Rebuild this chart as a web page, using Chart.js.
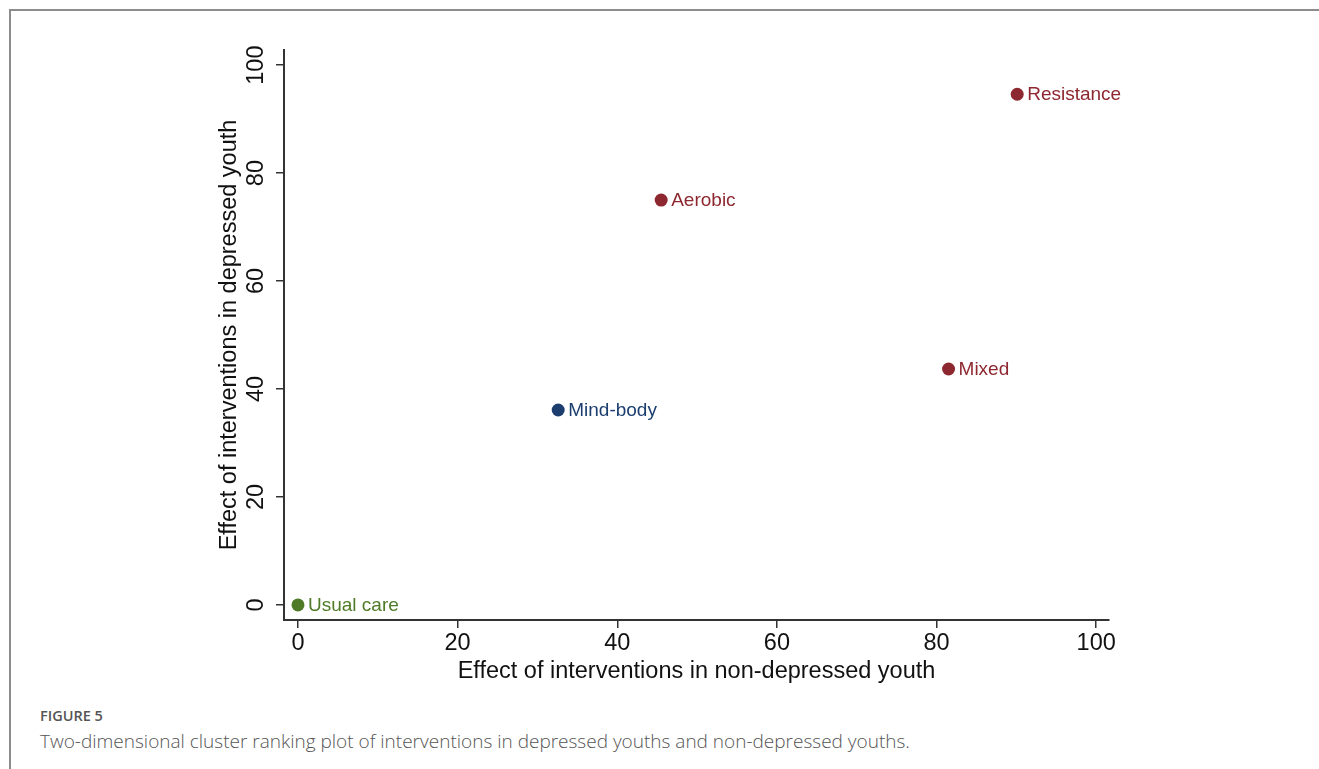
<!DOCTYPE html>
<html>
<head>
<meta charset="utf-8">
<script src="https://cdn.jsdelivr.net/npm/chart.js@4.4.1/dist/chart.umd.min.js"></script>
<style>
  html, body { margin: 0; padding: 0; background: #fff; width: 1319px; height: 769px; overflow: hidden; }
  #frame { position: absolute; left: 9px; top: 9px; width: 1330px; height: 800px; border-top: 2px solid #8c8c8c; border-left: 2px solid #8c8c8c; }
  #wrap { position: absolute; left: 0; top: 0; width: 1319px; height: 700px; }
  #cap1 { position: absolute; left: 40px; top: 706px; font-family: "Open Sans", sans-serif; font-size: 14.5px; font-weight: 600; color: #555; }
  #cap2 { position: absolute; left: 40px; top: 728px; font-family: "Open Sans", sans-serif; font-size: 19px; font-weight: 300; color: #555; }
</style>
</head>
<body>
<div id="frame"></div>
<div id="wrap"><canvas id="c"></canvas></div>
<div id="cap1">FIGURE 5</div>
<div id="cap2">Two-dimensional cluster ranking plot of interventions in depressed youths and non-depressed youths.</div>
<script>
const interventions = ["Usual care", "Mind-body", "Aerobic", "Mixed", "Resistance"];
const nonDepressedEffect = [0, 32.6, 45.5, 81.5, 90.1];
const depressedEffect = [0, 36.1, 75.0, 43.7, 94.6];
const pointColors = ["#4f7b28", "#1b3e6f", "#8e2830", "#8e2830", "#8e2830"];
const tickValues = [0, 20, 40, 60, 80, 100];

const FONT = "'Liberation Sans', Arial, Helvetica, sans-serif";

const labelPlugin = {
  id: 'pointLabels',
  afterDatasetsDraw(chart) {
    const ctx = chart.ctx;
    const meta = chart.getDatasetMeta(0);
    ctx.save();
    ctx.font = "19px " + FONT;
    ctx.textAlign = 'left';
    ctx.textBaseline = 'middle';
    meta.data.forEach((pt, i) => {
      ctx.fillStyle = pointColors[i];
      ctx.fillText(interventions[i], pt.x + 10, pt.y + 1);
    });
    ctx.restore();
  }
};

new Chart(document.getElementById('c'), {
  type: 'scatter',
  data: {
    datasets: [{
      label: 'Interventions',
      data: nonDepressedEffect.map((x, i) => ({ x: x, y: depressedEffect[i] })),
      backgroundColor: pointColors,
      borderWidth: 0,
      pointRadius: 6.5,
      pointHoverRadius: 6.5
    }]
  },
  options: {
    responsive: true,
    maintainAspectRatio: false,
    animation: false,
    layout: { padding: { left: 218, right: 210, top: 50, bottom: 17 } },
    plugins: { legend: { display: false }, tooltip: { enabled: false } },
    scales: {
      x: {
        type: 'linear',
        min: -1.75, max: 101.6,
        afterBuildTicks: s => { s.ticks = tickValues.map(v => ({ value: v })); },
        afterFit: s => { s.height = 63; },
        border: { display: true, color: '#333', width: 2 },
        grid: { display: true, drawOnChartArea: false, drawTicks: true, tickLength: 8, color: '#333', lineWidth: 1.5 },
        ticks: { font: { family: FONT, size: 23.5 }, color: '#111', padding: 1, maxRotation: 0, minRotation: 0 },
        title: { display: true, text: 'Effect of interventions in non-depressed youth', font: { family: FONT, size: 23.5, lineHeight: 1 }, color: '#111', padding: { top: 0, bottom: 0 } }
      },
      y: {
        type: 'linear',
        min: -2.8, max: 102.8,
        afterBuildTicks: s => { s.ticks = tickValues.map(v => ({ value: v })); },
        afterFit: s => { s.width = 66; },
        border: { display: true, color: '#333', width: 2 },
        grid: { display: true, drawOnChartArea: false, drawTicks: true, tickLength: 8, color: '#333', lineWidth: 1.5 },
        ticks: { font: { family: FONT, size: 23.5 }, color: '#111', padding: 0, minRotation: 90, maxRotation: 90, crossAlign: 'center' },
        title: { display: true, text: 'Effect of interventions in depressed youth', font: { family: FONT, size: 23.5, lineHeight: 1 }, color: '#111', padding: { top: 0, bottom: 0 } }
      }
    }
  },
  plugins: [labelPlugin]
});
</script>
</body>
</html>
